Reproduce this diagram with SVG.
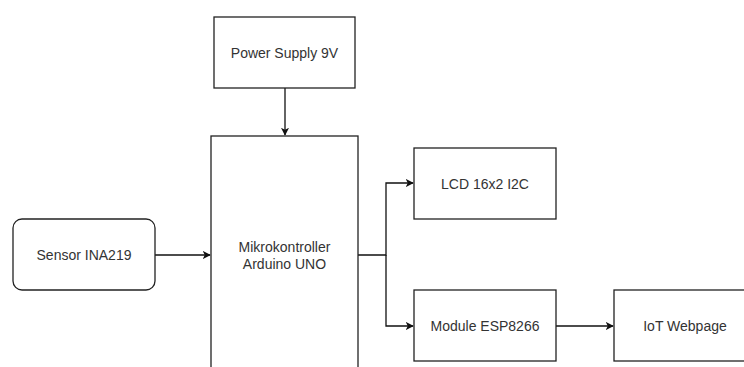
<svg xmlns="http://www.w3.org/2000/svg" width="744" height="367" viewBox="0 0 744 367">
<style>
.box{fill:#fff;stroke:#222;stroke-width:1.3}
.lbl{font-family:"Liberation Sans",Arial,sans-serif;font-size:14px;fill:#333;text-anchor:middle}
.edge{fill:none;stroke:#111;stroke-width:1.3}
</style>
<defs>
<marker id="arr" viewBox="0 0 10 10" refX="9" refY="5" markerWidth="8" markerHeight="8" markerUnits="userSpaceOnUse" orient="auto">
<path d="M0,0 L10,5 L0,10 L2.5,5 Z" fill="#111"/>
</marker>
</defs>
<rect width="744" height="367" fill="#fff"/>
<g id="edges">
<path class="edge" d="M285,88 V135" marker-end="url(#arr)"/>
<path class="edge" d="M155,255 H210" marker-end="url(#arr)"/>
<path class="edge" d="M358,255 H386 V183 H413" marker-end="url(#arr)"/>
<path class="edge" d="M386,255 V326 H413" marker-end="url(#arr)"/>
<path class="edge" d="M556,326 H613" marker-end="url(#arr)"/>
</g>
<g id="power">
<rect class="box" x="214" y="17" width="141" height="71"/>
<text class="lbl" x="284.5" y="58">Power Supply 9V</text>
</g>
<g id="mcu">
<rect class="box" x="211" y="136" width="147" height="240"/>
<text class="lbl" x="284.5" y="252">Mikrokontroller</text>
<text class="lbl" x="284.5" y="269">Arduino UNO</text>
</g>
<g id="sensor">
<rect class="box" x="13" y="219" width="142" height="71" rx="9" ry="9"/>
<text class="lbl" x="84" y="260">Sensor INA219</text>
</g>
<g id="lcd">
<rect class="box" x="414" y="148" width="142" height="71"/>
<text class="lbl" x="485" y="189">LCD 16x2 I2C</text>
</g>
<g id="esp">
<rect class="box" x="414" y="290" width="142" height="71"/>
<text class="lbl" x="485" y="331">Module ESP8266</text>
</g>
<g id="iot">
<rect class="box" x="614" y="290" width="142" height="71"/>
<text class="lbl" x="685" y="331">IoT Webpage</text>
</g>
</svg>
